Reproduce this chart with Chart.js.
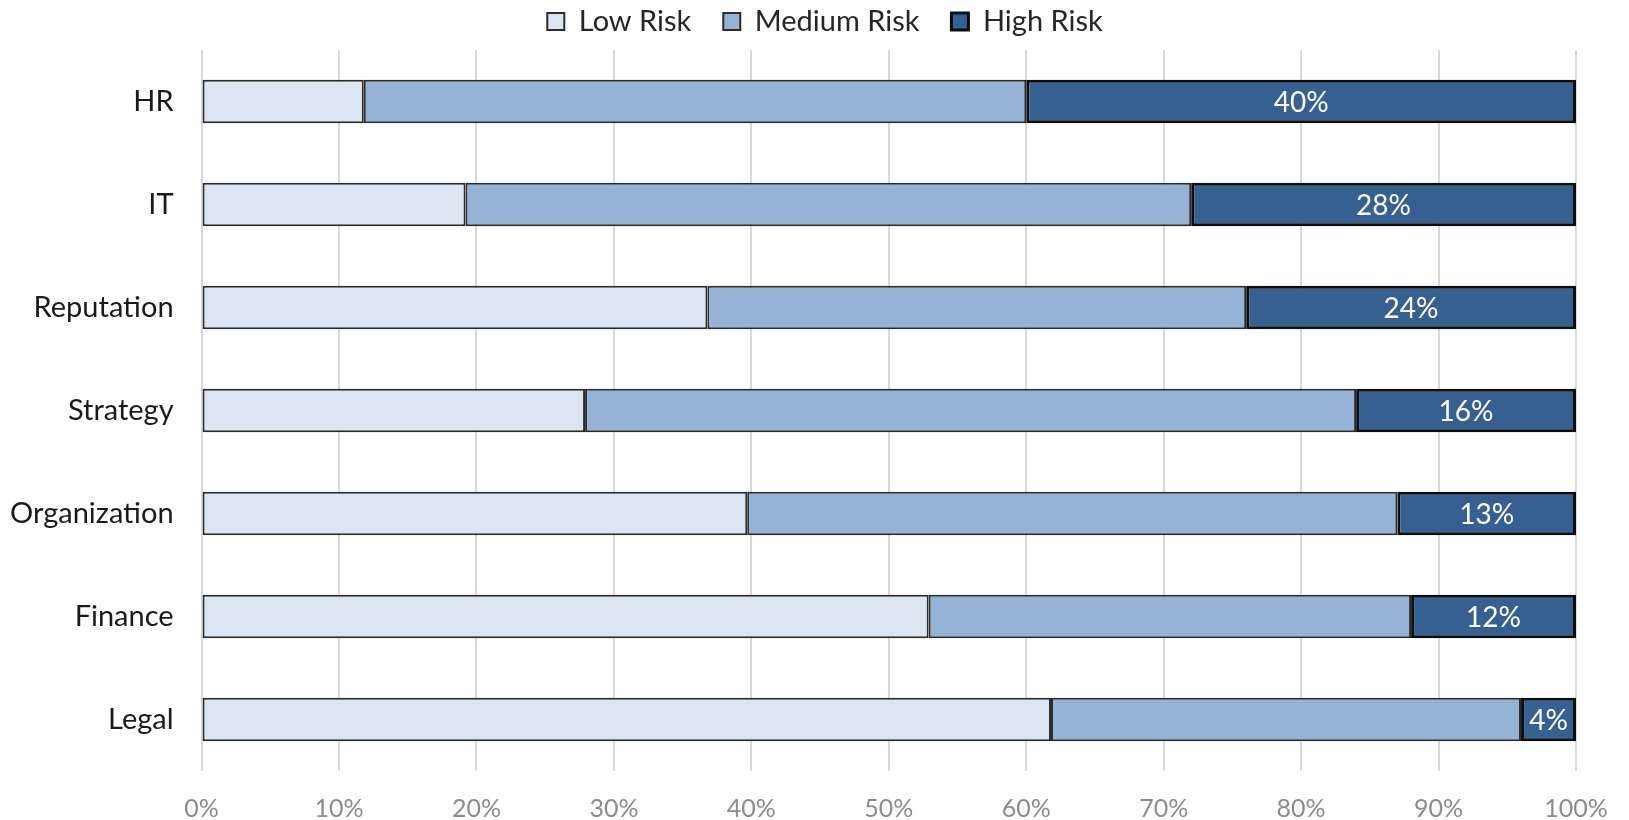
<!DOCTYPE html>
<html>
<head>
<meta charset="utf-8">
<script src="https://cdn.jsdelivr.net/npm/chart.js@4"></script>
<style>
  html, body { margin: 0; padding: 0; background: #ffffff; }
  #wrap { width: 1629px; height: 820px; position: relative; }
</style>
</head>
<body>
<div id="wrap"><canvas id="chart"></canvas></div>
<script>
// Risk areas, top to bottom
const categories = ['HR', 'IT', 'Reputation', 'Strategy', 'Organization', 'Finance', 'Legal'];

// Share of each risk level per area (%)
const lowRisk    = [11.8, 19.2, 36.8, 27.9, 39.7, 52.9, 61.8];
const mediumRisk = [48.2, 52.8, 39.2, 56.1, 47.3, 35.1, 34.2];
const highRisk   = [40, 28, 24, 16, 13, 12, 4];

const xTicks = [0, 10, 20, 30, 40, 50, 60, 70, 80, 90, 100];

const FONT = 'Lato, "Open Sans", sans-serif';

// Writes the percentage inside each High Risk segment
const highLabels = {
  id: 'highLabels',
  afterDatasetsDraw(chart) {
    const ctx = chart.ctx;
    const meta = chart.getDatasetMeta(2);
    ctx.save();
    ctx.fillStyle = '#ffffff';
    ctx.font = '28px ' + FONT;
    ctx.textAlign = 'center';
    ctx.textBaseline = 'middle';
    meta.data.forEach((bar, i) => {
      const p = bar.getCenterPoint();
      ctx.fillText(highRisk[i] + '%', p.x, p.y + 1);
    });
    ctx.restore();
  }
};

// Legend row: a bit more room below it, and centred over the bars rather than the canvas
const legendPlacement = {
  id: 'legendPlacement',
  beforeLayout(chart) {
    const lg = chart.legend;
    if (lg && !lg._placed) {
      const fit = lg.fit;
      lg.fit = function () { fit.call(this); this.height += 4; };
      const draw = lg.draw;
      lg.draw = function () {
        const ctx = this.ctx;
        ctx.save();
        ctx.translate(46, 0);
        draw.apply(this, arguments);
        ctx.restore();
      };
      lg._placed = true;
    }
  }
};

new Chart(document.getElementById('chart'), {
  type: 'bar',
  data: {
    labels: categories,
    datasets: [
      { label: 'Low Risk', data: lowRisk, backgroundColor: '#dce6f2', borderColor: '#2b2b2b', borderWidth: 2 },
      { label: 'Medium Risk', data: mediumRisk, backgroundColor: '#95b3d7', borderColor: '#2b2b2b', borderWidth: 2 },
      { label: 'High Risk', data: highRisk, backgroundColor: '#366092', borderColor: '#0d0d0d', borderWidth: 3 }
    ]
  },
  options: {
    indexAxis: 'y',
    responsive: true,
    maintainAspectRatio: false,
    animation: false,
    datasets: {
      bar: { categoryPercentage: 1, barPercentage: 0.42, borderSkipped: false }
    },
    layout: { padding: { left: -18, right: 53, top: -25, bottom: -27 } },
    plugins: {
      tooltip: { enabled: false },
      legend: {
        position: 'top',
        labels: {
          font: { family: FONT, size: 29 },
          color: '#262626',
          boxWidth: 17,
          boxHeight: 17,
          padding: 32
        }
      }
    },
    scales: {
      x: {
        stacked: true,
        min: 0,
        max: 100,
        afterBuildTicks(scale) { scale.ticks = xTicks.map(v => ({ value: v })); },
        afterFit(scale) { scale.paddingRight = 0; },
        ticks: {
          font: { family: FONT, size: 25 },
          color: '#8c8c8c',
          padding: 23,
          callback: v => v + '%'
        },
        grid: { color: '#d9d9d9', lineWidth: 2, drawTicks: false },
        border: { display: false }
      },
      y: {
        stacked: true,
        ticks: {
          font: { family: FONT, size: 29 },
          color: '#1a1a1a',
          padding: 28
        },
        grid: { display: false, drawTicks: false },
        border: { display: false }
      }
    }
  },
  plugins: [highLabels, legendPlacement]
});
</script>
</body>
</html>
